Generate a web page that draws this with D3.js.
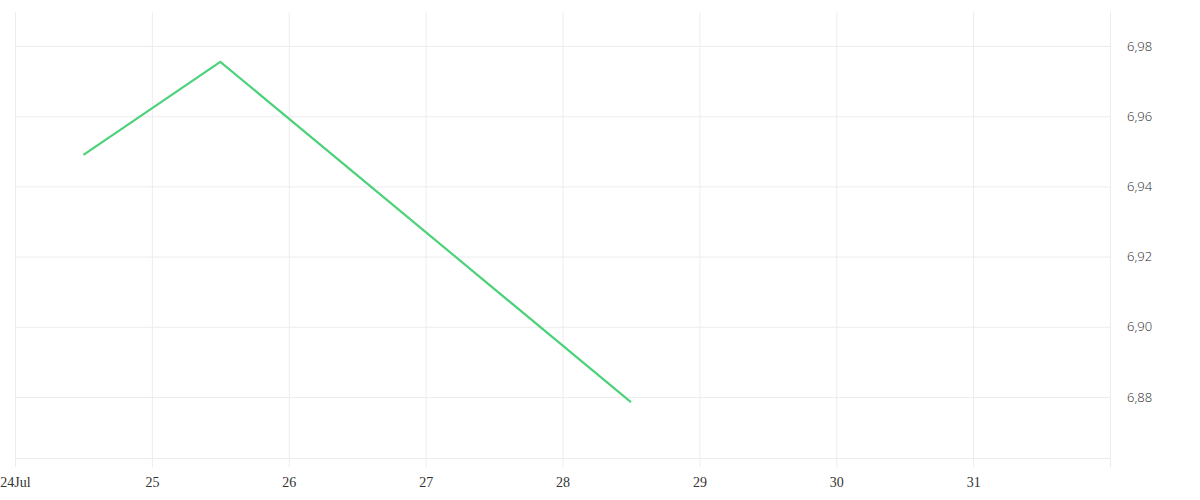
<!DOCTYPE html>
<html>
<head>
<meta charset="utf-8">
<script src="https://cdn.jsdelivr.net/npm/d3@7"></script>
<style>
  body { margin: 0; background: #fff; }
  .xlab { font-family: "Liberation Serif", serif; font-size: 14px; fill: #333; }
  .ylab { font-family: "Open Sans", sans-serif; font-size: 13px; font-weight: 300; fill: #2a2a2a; }
</style>
</head>
<body>
<div id="chart"></div>
<script>
// data
const dates = ["2021-07-24T12:00", "2021-07-25T12:00", "2021-07-28T12:00"];
const values = [6.949, 6.9755, 6.8785];
const xTicks = ["2021-07-24", "2021-07-25", "2021-07-26", "2021-07-27", "2021-07-28", "2021-07-29", "2021-07-30", "2021-07-31"];
const yTicks = [6.88, 6.90, 6.92, 6.94, 6.96, 6.98];
const xDomain = ["2021-07-24", "2021-08-01"];
const yDomain = [6.8626, 6.9897];

const width = 1200, height = 500;
const margin = { top: 12, right: 90, bottom: 42, left: 15 };
const iw = width - margin.left - margin.right;
const ih = height - margin.top - margin.bottom;

const parse = d3.isoParse;
const data = dates.map((d, i) => ({ date: parse(d), value: values[i] }));

const x = d3.scaleTime()
    .domain(xDomain.map(parse))
    .range([0, iw]);

const y = d3.scaleLinear()
    .domain(yDomain)
    .range([ih, 0]);

const svg = d3.select("#chart")
    .append("svg")
    .attr("width", width)
    .attr("height", height)
    .append("g")
    .attr("transform", `translate(${margin.left}, ${margin.top})`);

const gridColor = "#ececec";

// vertical grid (with tick marks below)
svg.append("g")
    .attr("transform", `translate(0, ${ih})`)
    .call(d3.axisBottom(x)
        .tickValues(xTicks.map(parse).concat([parse(xDomain[1])]))
        .tickSizeInner(-ih)
        .tickSizeOuter(0)
        .tickFormat(""))
    .call(g => g.select(".domain").remove())
    .selectAll("line")
    .attr("y2", -ih)
    .attr("y1", 9)
    .style("stroke", gridColor);

// horizontal grid
svg.append("g")
    .call(d3.axisLeft(y)
        .tickValues(yTicks.concat([yDomain[0]]))
        .tickSize(-iw)
        .tickFormat(""))
    .call(g => g.select(".domain").remove())
    .selectAll("line")
    .style("stroke", gridColor);

// x labels
const xAxis = svg.append("g")
    .attr("transform", `translate(0, ${ih})`)
    .call(d3.axisBottom(x)
        .tickValues(xTicks.map(parse))
        .tickSize(0)
        .tickPadding(19)
        .tickFormat((d, i) => i === 0 ? d3.timeFormat("%d%b")(d) : d3.timeFormat("%-d")(d)));
xAxis.select(".domain").remove();
xAxis.selectAll("text").attr("class", "xlab").attr("fill", null);
xAxis.attr("font-family", null).attr("font-size", null);

// y labels
const yAxis = svg.append("g")
    .attr("transform", `translate(${iw}, 0)`)
    .call(d3.axisRight(y)
        .tickValues(yTicks)
        .tickSize(0)
        .tickPadding(17)
        .tickFormat(d => d3.format(".2f")(d).replace(".", ",")));
yAxis.select(".domain").remove();
yAxis.selectAll("text").attr("class", "ylab").attr("fill", null);
yAxis.attr("font-family", null).attr("font-size", null);

// line
const line = d3.line()
    .x(d => x(d.date))
    .y(d => y(d.value));

svg.append("path")
    .datum(data)
    .attr("fill", "none")
    .attr("stroke", "#4cd27b")
    .attr("stroke-width", 2.2)
    .attr("d", line);
</script>
</body>
</html>
